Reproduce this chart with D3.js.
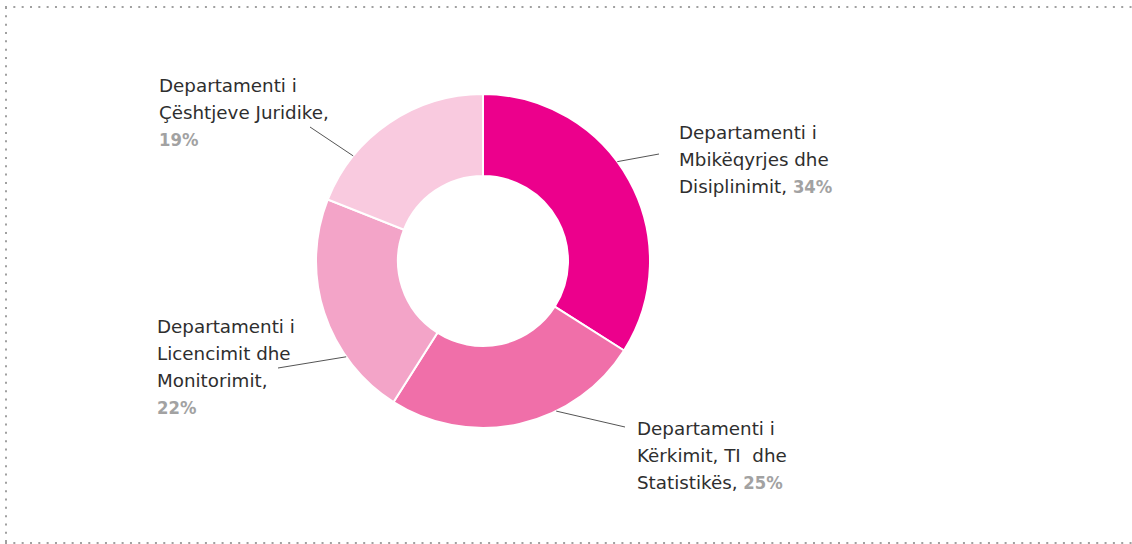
<!DOCTYPE html>
<html>
<head>
<meta charset="utf-8">
<script src="https://cdn.jsdelivr.net/npm/d3@7"></script>
<style>
  html, body { margin: 0; padding: 0; background: #fff; }
  svg { display: block; }
  .lbl { font-family: "DejaVu Sans", sans-serif; font-size: 18.3px; fill: #2e2e2e; white-space: pre; }
  .pct { font-family: "DejaVu Sans Condensed", "DejaVu Sans", sans-serif; font-weight: bold; fill: #a2a2a2; }
</style>
</head>
<body>
<svg id="chart" width="1132" height="544"></svg>
<script>
const width = 1132;
const height = 544;

// data
const departments = [
    ["Departamenti i", "Mbikëqyrjes dhe", "Disiplinimit, "],
    ["Departamenti i", "Kërkimit, TI  dhe", "Statistikës, "],
    ["Departamenti i", "Licencimit dhe", "Monitorimit,"],
    ["Departamenti i", "Çështjeve Juridike,"]
];
const shares = [34, 25, 22, 19];
const pctOnNewLine = [false, false, true, true];
const colors = ["#ec008c", "#f06fa9", "#f3a4c8", "#f9cadf"];

// label layout: leader start angle (deg, on outer edge), leader end, text anchor
const labelLayout = [
    { angle: 53.5, ex: 659, ey: 154, tx: 679, ty: 139 },
    { angle: 154, ex: 625, ey: 427, tx: 637, ty: 435 },
    { angle: 235, ex: 278, ey: 368, tx: 157, ty: 333 },
    { angle: 309, ex: 310, ey: 127, tx: 159, ty: 92 }
];

const cx = 483, cy = 261;
const outerR = 167, innerR = 85;
const lineH = 27;

const svg = d3.select("#chart");

// dotted frame
const frame = svg.append("g")
    .attr("stroke", "#a0a0a0")
    .attr("stroke-width", 2)
    .attr("stroke-dasharray", "2,6.33");
frame.append("line").attr("x1", 5).attr("y1", 7).attr("x2", width).attr("y2", 7);
frame.append("line").attr("x1", 6).attr("y1", 7).attr("x2", 6).attr("y2", 543);
frame.append("line").attr("x1", 5).attr("y1", 543).attr("x2", width).attr("y2", 543);

const pie = d3.pie().sort(null).value(d => d);
const arc = d3.arc().innerRadius(innerR).outerRadius(outerR);

const g = svg.append("g").attr("transform", `translate(${cx},${cy})`);

g.selectAll("path")
    .data(pie(shares))
    .join("path")
    .attr("d", arc)
    .attr("fill", (d, i) => colors[i])
    .attr("stroke", "#fff")
    .attr("stroke-width", 2);

// leader lines
svg.append("g")
    .selectAll("line")
    .data(labelLayout)
    .join("line")
    .attr("x1", d => cx + outerR * Math.sin(d.angle * Math.PI / 180))
    .attr("y1", d => cy - outerR * Math.cos(d.angle * Math.PI / 180))
    .attr("x2", d => d.ex)
    .attr("y2", d => d.ey)
    .attr("stroke", "#555")
    .attr("stroke-width", 1);

// labels
departments.forEach((lines, i) => {
    const pos = labelLayout[i];
    const t = svg.append("text")
        .attr("class", "lbl")
        .attr("x", pos.tx)
        .attr("y", pos.ty);
    lines.forEach((line, j) => {
        t.append("tspan")
            .attr("x", pos.tx)
            .attr("dy", j === 0 ? 0 : lineH)
            .text(line);
    });
    const p = t.append("tspan").attr("class", "pct").text(shares[i] + "%");
    if (pctOnNewLine[i]) p.attr("x", pos.tx).attr("dy", lineH);
});
</script>
</body>
</html>
